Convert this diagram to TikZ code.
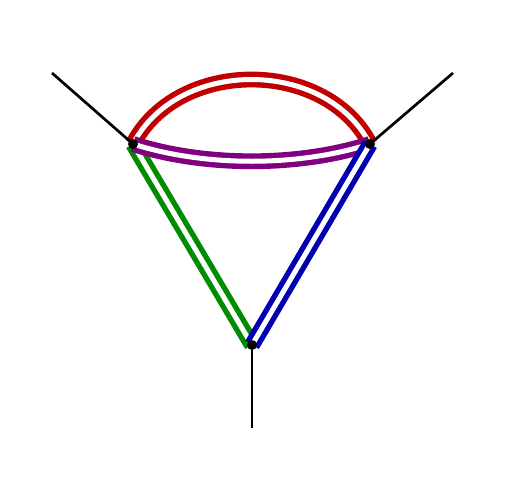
\documentclass[tikz,border=0pt]{standalone}
\definecolor{cred}{RGB}{192,0,0}
\definecolor{cpurple}{RGB}{128,0,128}
\definecolor{cgreen}{RGB}{0,140,0}
\definecolor{cblue}{RGB}{0,0,176}
\tikzset{
  prop/.style={line width=5.4pt, double=white, double distance=5pt},
  ext/.style={line width=2.7pt, black},
  vtx/.style={circle, fill=black, inner sep=0pt, minimum size=10pt},
}
\begin{document}
\begin{tikzpicture}[x=1pt,y=-1pt]
\useasboundingbox (0,0) rectangle (505,479);
\coordinate (L) at (133,144);
\coordinate (R) at (370,144);
\coordinate (B) at (252,345);
\coordinate (eL) at (52,73);
\coordinate (eR) at (453,73);
\coordinate (eB) at (252,428);
\draw[prop, draw=cred] (L) .. controls (178,58) and (325,58) .. (R);
\draw[prop, draw=cgreen] (L) -- (B);
\draw[prop, draw=cpurple] (L) .. controls (205,167) and (298,167) .. (R);
\draw[prop, draw=cblue] (R) -- (B);
\draw[ext] (L) -- (eL);
\draw[ext] (R) -- (eR);
\draw[ext] (B) -- (eB);
\node[vtx] (vL) at (L) {};
\node[vtx] (vR) at (R) {};
\node[vtx] (vB) at (B) {};
\end{tikzpicture}
\end{document}
